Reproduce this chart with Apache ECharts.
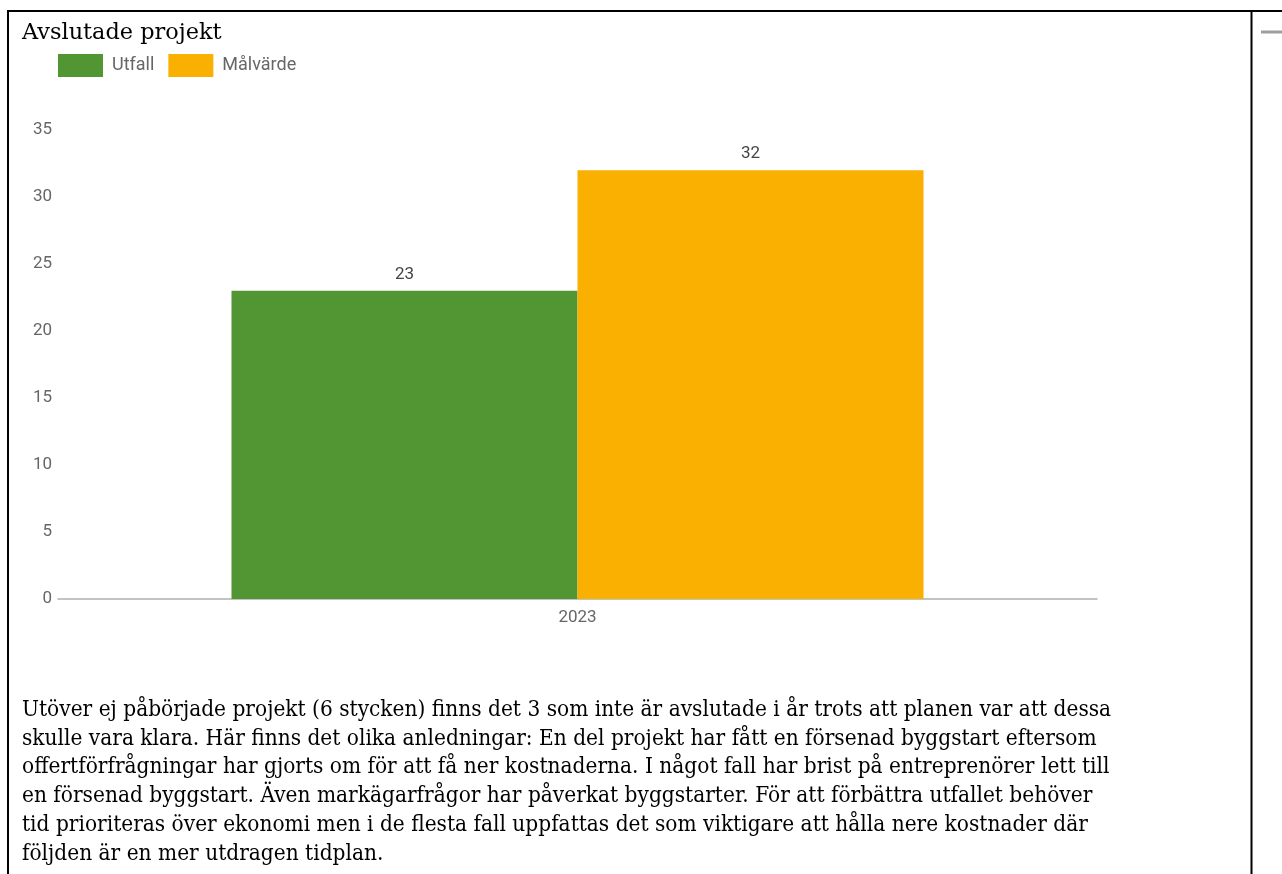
<!DOCTYPE html>
<html>
<head>
<meta charset="utf-8">
<script src="https://cdn.jsdelivr.net/npm/echarts@6/dist/echarts.min.js"></script>
<style>
html,body{margin:0;padding:0;background:#fff;}
#c{width:1282px;height:874px;}
</style>
</head>
<body>
<div id="c"></div>
<script>
const titleText = 'Avslutade projekt';
const categories = ['2023'];
const seriesNames = ['Utfall', 'Målvärde'];
const utfall = [23];
const malvarde = [32];
const yTicks = {min: 0, max: 35, interval: 5};
const paragraphLines = [
  'Utöver ej påbörjade projekt (6 stycken) finns det 3 som inte är avslutade i år trots att planen var att dessa',
  'skulle vara klara. Här finns det olika anledningar: En del projekt har fått en försenad byggstart eftersom',
  'offertförfrågningar har gjorts om för att få ner kostnaderna. I något fall har brist på entreprenörer lett till',
  'en försenad byggstart. Även markägarfrågor har påverkat byggstarter. För att förbättra utfallet behöver',
  'tid prioriteras över ekonomi men i de flesta fall uppfattas det som viktigare att hålla nere kostnader där',
  'följden är en mer utdragen tidplan.'
];

const serif = '"DejaVu Serif", serif';
const sans = 'Roboto, "Noto Sans", sans-serif';

const chart = echarts.init(document.getElementById('c'), null, {renderer: 'canvas'});

const graphics = [
  {type: 'line', shape: {x1: 7, y1: 11, x2: 1282, y2: 11}, style: {stroke: '#000', lineWidth: 2}},
  {type: 'line', shape: {x1: 8, y1: 10, x2: 8, y2: 874}, style: {stroke: '#000', lineWidth: 2}},
  {type: 'line', shape: {x1: 1251.5, y1: 10, x2: 1251.5, y2: 874}, style: {stroke: '#000', lineWidth: 2}},
  {type: 'line', shape: {x1: 1261, y1: 32, x2: 1282, y2: 32}, style: {stroke: '#9e9e9e', lineWidth: 3}},
  {type: 'text', x: 22, y: 22, scaleX: 0.975, style: {text: titleText, font: '23px ' + serif, fill: '#000', verticalAlign: 'top'}}
];
paragraphLines.forEach(function (t, i) {
  graphics.push({type: 'text', x: 22, y: 699 + i * 28.8, scaleX: 0.917,
    style: {text: t, font: '22px ' + serif, fill: '#000', verticalAlign: 'top'}});
});

chart.setOption({
  animation: false,
  backgroundColor: '#fff',
  textStyle: {fontFamily: sans},
  color: ['#519632', '#f9b000'],
  legend: {
    left: 53, top: 49,
    itemWidth: 45, itemHeight: 23, itemGap: 14,
    icon: 'rect',
    textStyle: {color: '#666', fontSize: 18, fontFamily: sans, padding: [0, 0, 0, 4]},
    data: seriesNames
  },
  grid: {left: 58, right: 185, top: 130, bottom: 275, containLabel: false},
  xAxis: {
    type: 'category', data: categories,
    axisLine: {lineStyle: {color: '#b0b0b0', width: 1.5}},
    axisTick: {show: false},
    axisLabel: {color: '#666', fontSize: 17, margin: 10}
  },
  yAxis: {
    type: 'value', min: yTicks.min, max: yTicks.max, interval: yTicks.interval,
    axisLine: {show: false}, axisTick: {show: false},
    splitLine: {show: false},
    axisLabel: {color: '#666', fontSize: 17, margin: 6}
  },
  series: [
    {name: seriesNames[0], type: 'bar', data: utfall, barWidth: 346, barGap: '0%',
     label: {show: true, position: 'top', distance: 8, color: '#444', fontSize: 17}},
    {name: seriesNames[1], type: 'bar', data: malvarde, barWidth: 346, barGap: '0%',
     label: {show: true, position: 'top', distance: 8, color: '#444', fontSize: 17}}
  ],
  graphic: graphics
});
</script>
</body>
</html>
